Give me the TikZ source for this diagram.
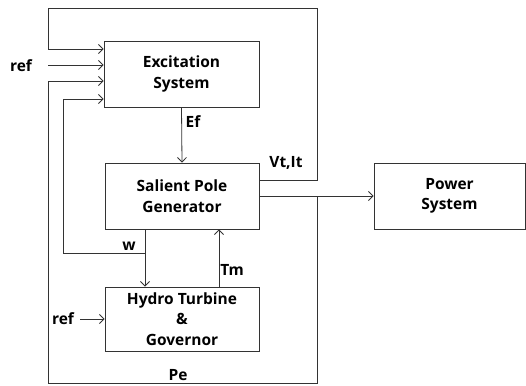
\documentclass[tikz,border=0pt]{standalone}
\usepackage{fontspec}
\setmainfont{Open Sans}
\usetikzlibrary{arrows.meta}
\begin{document}
\begin{tikzpicture}[x=1pt,y=-1pt,
  blk/.style={draw=black!80,line width=0.9pt,align=center,inner sep=0pt,
    font=\fontsize{15.5}{20.5}\selectfont\bfseries},
  lbl/.style={font=\fontsize{15.5}{20.5}\selectfont\bfseries,inner sep=0pt},
  ln/.style={draw=black!80,line width=0.8pt},
  arr/.style={ln,-{Straight Barb[length=4.5pt,width=9pt,line width=0.8pt]}}]
\useasboundingbox (0,0) rectangle (526,385);
\node[blk,minimum width=155pt,minimum height=66pt] (exc) at (181.5,74) {Excitation\\System};
\node[blk,minimum width=154pt,minimum height=66pt] (gen) at (182,196) {Salient Pole\\Generator};
\node[blk,minimum width=154pt,minimum height=64pt] (hyd) at (182,319) {Hydro Turbine\\\&\\Governor};
\node[blk,minimum width=151pt,minimum height=66pt] (ps) at (449.5,196) {Power\\System};
% labels
\node[lbl] (ref1) at (21,66) {ref};
\node[lbl] (ref2) at (63,319) {ref};
\node[lbl] (ef) at (193,122) {Ef};
\node[lbl] (vtit) at (286,163) {Vt,It};
\node[lbl] (wl) at (129,246) {w};
\node[lbl] (tm) at (232,270) {Tm};
\node[lbl] (pe) at (178,375) {Pe};
% coordinates
\coordinate (r1s) at (48,65);
\coordinate (r2s) at (80,319);
\coordinate (ta) at (317,180);
\coordinate (tb) at (317,8);
\coordinate (tc) at (48,8);
\coordinate (td) at (48,49);
\coordinate (pa) at (317,196);
\coordinate (pb) at (317,383);
\coordinate (pc) at (48,383);
\coordinate (pd) at (48,81);
\coordinate (wa) at (145,253);
\coordinate (wb) at (63,253);
\coordinate (wc) at (63,99);
% connectors
\draw[arr] (gen.east |- ta) -- (ta) -- (tb) -- (tc) -- (td) -- (exc.west |- td);
\draw[arr] (r1s) -- (exc.west |- r1s);
\draw[arr] (pa) -- (pb) -- (pc) -- (pd) -- (exc.west |- pd);
\draw[arr] (gen.east) -- (ps.west);
\draw[arr] (wa) -- (wb) -- (wc) -- (exc.west |- wc);
\draw[arr] (gen.south -| wa) -- (hyd.north -| wa);
\draw[arr] (exc.south) -- (gen.north);
\draw[arr] (hyd.north -| 219,0) -- (gen.south -| 219,0);
\draw[arr] (r2s) -- (hyd.west |- r2s);
\end{tikzpicture}
\end{document}
